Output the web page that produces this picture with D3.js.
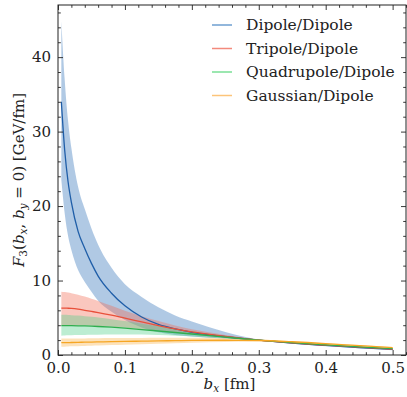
<!DOCTYPE html>
<html><head><meta charset="utf-8">
<script src="https://cdn.jsdelivr.net/npm/d3@7"></script>
<style>
body{margin:0;background:#fff;}
svg{display:block;font-family:"DejaVu Serif",serif;}
</style></head>
<body><svg id="c" width="407" height="397"></svg>
<script>
const bx = [0.005,0.01,0.015,0.02,0.03,0.04,0.05,0.06,0.08,0.1,0.125,0.15,0.175,0.2,0.25,0.3,0.35,0.4,0.45,0.5];

const dipoleMid = [34,27.5,23.3,20.5,16.6,14.3,12.3,10.6,8.3,6.6,5.1,4.1,3.5,3.05,2.45,2.0,1.6,1.28,1.0,0.75];
const dipoleUp  = [44.8,37,31.5,27.8,22.6,19.6,17,14.8,11.7,9.5,7.8,6.4,5.3,4.5,3.1,2.08,1.68,1.38,1.1,0.85];
const dipoleLo  = [23.5,19,16,14.1,11.4,9.8,8.5,7.3,5.8,4.7,3.7,3.05,2.7,2.5,2.2,1.93,1.52,1.18,0.9,0.65];

const tripoleMid = [6.3,6.3,6.28,6.25,6.15,6.0,5.85,5.7,5.35,4.95,4.45,3.95,3.5,3.1,2.5,2.0,1.62,1.32,1.05,0.8];
const tripoleUp  = [8.5,8.45,8.4,8.3,8.1,7.85,7.55,7.25,6.6,5.95,5.2,4.55,3.95,3.45,2.7,2.08,1.68,1.38,1.1,0.86];
const tripoleLo  = [3.95,3.96,3.97,3.97,3.97,3.96,3.94,3.9,3.8,3.7,3.5,3.28,3.05,2.8,2.3,1.93,1.56,1.26,1.0,0.75];

const quadMid = [3.95,3.95,3.95,3.94,3.92,3.9,3.87,3.83,3.73,3.6,3.42,3.22,3.02,2.82,2.4,2.0,1.66,1.36,1.1,0.85];
const quadUp  = [5.4,5.4,5.38,5.35,5.3,5.22,5.12,5.02,4.8,4.55,4.2,3.85,3.5,3.2,2.6,2.05,1.7,1.4,1.14,0.9];
const quadLo  = [2.6,2.62,2.64,2.66,2.68,2.7,2.72,2.73,2.75,2.76,2.74,2.68,2.6,2.5,2.22,1.95,1.62,1.32,1.06,0.8];

const gaussMid = [1.65,1.66,1.67,1.68,1.7,1.72,1.74,1.76,1.79,1.82,1.86,1.9,1.93,1.96,1.98,1.95,1.78,1.52,1.26,1.0];
const gaussUp  = [2.2,2.2,2.2,2.21,2.22,2.23,2.24,2.25,2.27,2.28,2.29,2.3,2.3,2.3,2.25,2.07,1.86,1.6,1.33,1.06];
const gaussLo  = [1.1,1.12,1.14,1.16,1.19,1.22,1.25,1.28,1.33,1.38,1.45,1.52,1.58,1.64,1.73,1.85,1.7,1.45,1.19,0.94];

const seriesNames = ["Dipole/Dipole","Tripole/Dipole","Quadrupole/Dipole","Gaussian/Dipole"];
const xTicks = [0,0.1,0.2,0.3,0.4,0.5];
const yTicks = [0,10,20,30,40];

const lineColors = ["#1f5ea8","#e8503a","#2fae4e","#f6a623"];
const bandColors = ["#2f72b8","#f26b55","#4fd08a","#fbb24a"];
const legendColors = ["#6e9fd0","#f38a7c","#7adf96","#fcc47a"];

const series = [
  {mid:dipoleMid, up:dipoleUp, lo:dipoleLo},
  {mid:tripoleMid, up:tripoleUp, lo:tripoleLo},
  {mid:quadMid, up:quadUp, lo:quadLo},
  {mid:gaussMid, up:gaussUp, lo:gaussLo}
];

const svg = d3.select("#c");
const L=58, R=406, T=5, B=355;
const x = d3.scaleLinear().domain([0,0.52]).range([L,R]);
const y = d3.scaleLinear().domain([0,47]).range([B,T]);

const g = svg.append("g");
const area = d3.area().curve(d3.curveMonotoneX).x((d,i)=>x(bx[i])).y0(d=>y(d[0])).y1(d=>y(d[1]));
const line = d3.line().curve(d3.curveMonotoneX).x((d,i)=>x(bx[i])).y(d=>y(d));

series.forEach((s,k)=>{
  g.append("path").datum(s.lo.map((v,i)=>[v,s.up[i]])).attr("d",area)
   .attr("fill",bandColors[k]).attr("fill-opacity",0.38).attr("stroke","none");
});
series.forEach((s,k)=>{
  g.append("path").datum(s.mid).attr("d",line).attr("fill","none")
   .attr("stroke",lineColors[k]).attr("stroke-width",1.3);
});

const minorX = d3.range(0,0.521,0.02).filter(v=>Math.abs(v*10-Math.round(v*10))>1e-6);
const minorY = d3.range(0,47,2).filter(v=>v%10!==0);

function style(sel){
  sel.select(".domain").remove();
  sel.selectAll("line").attr("stroke","#222").attr("stroke-width",0.9);
  sel.selectAll("text").attr("font-family","DejaVu Serif").attr("font-size",15).attr("fill","#222");
}
svg.append("g").attr("transform",`translate(0,${B})`)
  .call(d3.axisBottom(x).tickValues(xTicks).tickFormat(d3.format(".1f")).tickSize(-5).tickPadding(7)).call(style);
svg.append("g").attr("transform",`translate(0,${B})`)
  .call(d3.axisBottom(x).tickValues(minorX).tickFormat("").tickSize(-2.8)).call(style);
svg.append("g").attr("transform",`translate(0,${T})`)
  .call(d3.axisTop(x).tickValues(xTicks).tickFormat("").tickSize(-5)).call(style);
svg.append("g").attr("transform",`translate(0,${T})`)
  .call(d3.axisTop(x).tickValues(minorX).tickFormat("").tickSize(-2.8)).call(style);
svg.append("g").attr("transform",`translate(${L},0)`)
  .call(d3.axisLeft(y).tickValues(yTicks).tickFormat(d3.format("d")).tickSize(-5).tickPadding(7)).call(style);
svg.append("g").attr("transform",`translate(${L},0)`)
  .call(d3.axisLeft(y).tickValues(minorY).tickFormat("").tickSize(-2.8)).call(style);
svg.append("g").attr("transform",`translate(${R},0)`)
  .call(d3.axisRight(y).tickValues(yTicks).tickFormat("").tickSize(-5)).call(style);
svg.append("g").attr("transform",`translate(${R},0)`)
  .call(d3.axisRight(y).tickValues(minorY).tickFormat("").tickSize(-2.8)).call(style);

svg.append("rect").attr("x",L).attr("y",T).attr("width",R-L).attr("height",B-T)
  .attr("fill","none").attr("stroke","#222").attr("stroke-width",1);

// x label
const xl = svg.append("text").attr("x",(L+393)/2+4).attr("y",389).attr("text-anchor","middle")
  .attr("font-size",15).attr("fill","#222");
xl.append("tspan").attr("font-style","italic").text("b");
xl.append("tspan").attr("font-style","italic").attr("font-size",10.5).attr("dy",3).text("x");
xl.append("tspan").attr("dy",-3).text(" [fm]");

// y label
const yl = svg.append("text").attr("transform",`translate(24,${(T+B)/2}) rotate(-90)`)
  .attr("text-anchor","middle").attr("font-size",15).attr("fill","#222");
yl.append("tspan").attr("font-style","italic").text("F");
yl.append("tspan").attr("font-size",10.5).attr("dy",3).text("3");
yl.append("tspan").attr("dy",-3).text("(");
yl.append("tspan").attr("font-style","italic").text("b");
yl.append("tspan").attr("font-style","italic").attr("font-size",10.5).attr("dy",3).text("x");
yl.append("tspan").attr("dy",-3).text(", ");
yl.append("tspan").attr("font-style","italic").text("b");
yl.append("tspan").attr("font-style","italic").attr("font-size",10.5).attr("dy",3).text("y");
yl.append("tspan").attr("dy",-3).text(" = 0) [GeV/fm]");

// legend
const lg = svg.append("g");
seriesNames.forEach((n,i)=>{
  const yy = 25 + i*23.5;
  lg.append("line").attr("x1",212).attr("x2",232).attr("y1",yy).attr("y2",yy)
    .attr("stroke",legendColors[i]).attr("stroke-width",1.5);
  lg.append("text").attr("x",246).attr("y",yy+5).attr("font-size",15.5).attr("fill","#222").text(n);
});
</script></body></html>
